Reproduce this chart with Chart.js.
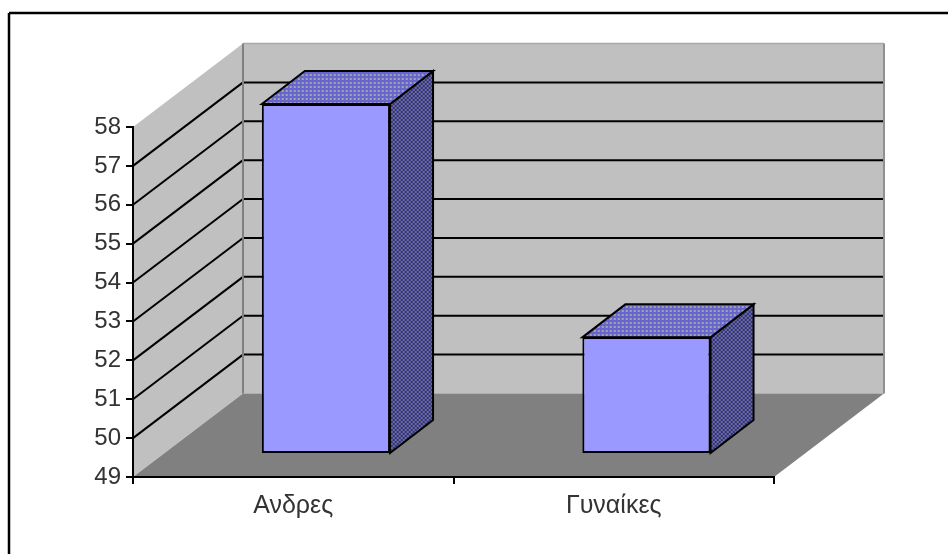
<!DOCTYPE html>
<html>
<head>
<meta charset="utf-8">
<title>Άνδρες - Γυναίκες</title>
<script src="https://cdn.jsdelivr.net/npm/chart.js@4/dist/chart.umd.js"></script>
<style>
  html, body { margin: 0; padding: 0; background: #fff; overflow: hidden; }
  canvas { display: block; }
</style>
</head>
<body>
<canvas id="barChart" width="948" height="554"></canvas>
<script>
const categories = ["Ανδρες", "Γυναίκες"];
const values = [58, 52];
const yTickLabels = ["49", "50", "51", "52", "53", "54", "55", "56", "57", "58"];
const yMin = Number(yTickLabels[0]);
const yMax = Number(yTickLabels[yTickLabels.length - 1]);

// box depth of the whole plot and of a single bar, in px
const wallDx = 110, wallDy = 83.5;
const barShiftX = 32.7, barShiftY = 23;
const barDx = 43, barDy = 33;

/** small repeating fill used on the shaded bar faces */
function makePattern(bg, fg, cells) {
  const c = document.createElement("canvas");
  c.width = 4; c.height = 4;
  const g = c.getContext("2d");
  g.fillStyle = bg;
  g.fillRect(0, 0, 4, 4);
  g.fillStyle = fg;
  cells.forEach(p => g.fillRect(p[0], p[1], p[2], p[3]));
  return g.createPattern(c, "repeat");
}

function poly(ctx, pts, fill, stroke) {
  ctx.beginPath();
  pts.forEach((p, i) => i ? ctx.lineTo(p[0], p[1]) : ctx.moveTo(p[0], p[1]));
  ctx.closePath();
  if (fill) { ctx.fillStyle = fill; ctx.fill(); }
  if (stroke) { ctx.strokeStyle = stroke; ctx.lineWidth = 2; ctx.stroke(); }
}

function line(ctx, x1, y1, x2, y2, color, width) {
  ctx.beginPath();
  ctx.moveTo(x1, y1);
  ctx.lineTo(x2, y2);
  ctx.strokeStyle = color;
  ctx.lineWidth = width;
  ctx.stroke();
}

// walls, floor and gridlines, plus the frame lines along the top and left
const boxPlugin = {
  id: "box3d",
  beforeDraw(chart) {
    const { ctx, chartArea: a, scales: { y } } = chart;
    const top = y.getPixelForValue(y.max), bot = y.getPixelForValue(y.min);
    ctx.save();
    line(ctx, 9, 13, chart.width, 13, "#000", 2.5);
    line(ctx, 9, 13, 9, chart.height, "#000", 2.5);

    // back wall and side wall
    poly(ctx, [[a.left + wallDx, top - wallDy], [a.right + wallDx, top - wallDy],
               [a.right + wallDx, bot - wallDy], [a.left + wallDx, bot - wallDy]], "#c0c0c0");
    poly(ctx, [[a.left, top], [a.left + wallDx, top - wallDy],
               [a.left + wallDx, bot - wallDy], [a.left, bot]], "#c0c0c0");
    // floor
    poly(ctx, [[a.left, bot], [a.right, bot],
               [a.right + wallDx, bot - wallDy], [a.left + wallDx, bot - wallDy]], "#808080");

    // gridlines run along the side wall and then across the back
    y.ticks.forEach(t => {
      if (t.value === y.min || t.value === y.max) return;
      const py = y.getPixelForValue(t.value);
      line(ctx, a.left, py, a.left + wallDx, py - wallDy, "#000", 2);
      line(ctx, a.left + wallDx, py - wallDy, a.right + wallDx, py - wallDy, "#000", 2);
    });

    line(ctx, a.left + wallDx, top - wallDy, a.right + wallDx, top - wallDy, "#a8a8a8", 1.5);
    line(ctx, a.left + wallDx, top - wallDy, a.left + wallDx, bot - wallDy, "#808080", 2);
    line(ctx, a.right + wallDx, top - wallDy, a.right + wallDx, bot - wallDy, "#909090", 2);
    ctx.restore();
  },
  // bars sit partway into the box, so the front faces get moved back
  beforeDatasetDraw(chart) {
    chart.ctx.save();
    chart.ctx.translate(barShiftX, -barShiftY);
  },
  afterDatasetDraw(chart, args) {
    const ctx = chart.ctx;
    const sidePat = makePattern("#2e2e90", "#6e6e88", [[0, 0, 2, 2], [2, 2, 2, 2]]);
    const topPat = makePattern("#6666cc", "#a3a3b8", [[1, 1, 2, 2]]);
    args.meta.data.forEach(bar => {
      const l = bar.x - bar.width / 2, r = bar.x + bar.width / 2;
      poly(ctx, [[r, bar.y], [r + barDx, bar.y - barDy], [r + barDx, bar.base - barDy], [r, bar.base]], sidePat, "#000");
      poly(ctx, [[l, bar.y], [l + barDx, bar.y - barDy], [r + barDx, bar.y - barDy], [r, bar.y]], topPat, "#000");
    });
    ctx.restore();
  }
};

new Chart(document.getElementById("barChart").getContext("2d"), {
  type: "bar",
  data: {
    labels: categories,
    datasets: [{
      data: values,
      base: yMin,
      backgroundColor: "#9999ff",
      borderColor: "#000",
      borderWidth: 2,
      borderSkipped: false,
      barPercentage: 0.4,
      categoryPercentage: 1,
      clip: false
    }]
  },
  options: {
    responsive: false,
    animation: false,
    layout: { padding: { top: 127, right: 174, left: 0, bottom: 0 } },
    plugins: { legend: { display: false }, tooltip: { enabled: false } },
    scales: {
      x: {
        afterFit: s => { s.height = 77; },
        border: { color: "#000", width: 2 },
        grid: { drawOnChartArea: false, color: "#000", tickLength: 7, lineWidth: 2 },
        ticks: { color: "#333", padding: 7, maxRotation: 0, font: { family: "Liberation Sans", size: 25 } }
      },
      y: {
        min: yMin,
        max: yMax,
        afterFit: s => { s.width = 133; },
        border: { color: "#000", width: 2 },
        grid: { drawOnChartArea: false, color: "#000", tickLength: 7, lineWidth: 2 },
        ticks: {
          stepSize: 1,
          color: "#333",
          padding: 5,
          callback: v => yTickLabels[v - yMin],
          font: { family: "Liberation Sans", size: 24 }
        }
      }
    }
  },
  plugins: [boxPlugin]
});
</script>
</body>
</html>
